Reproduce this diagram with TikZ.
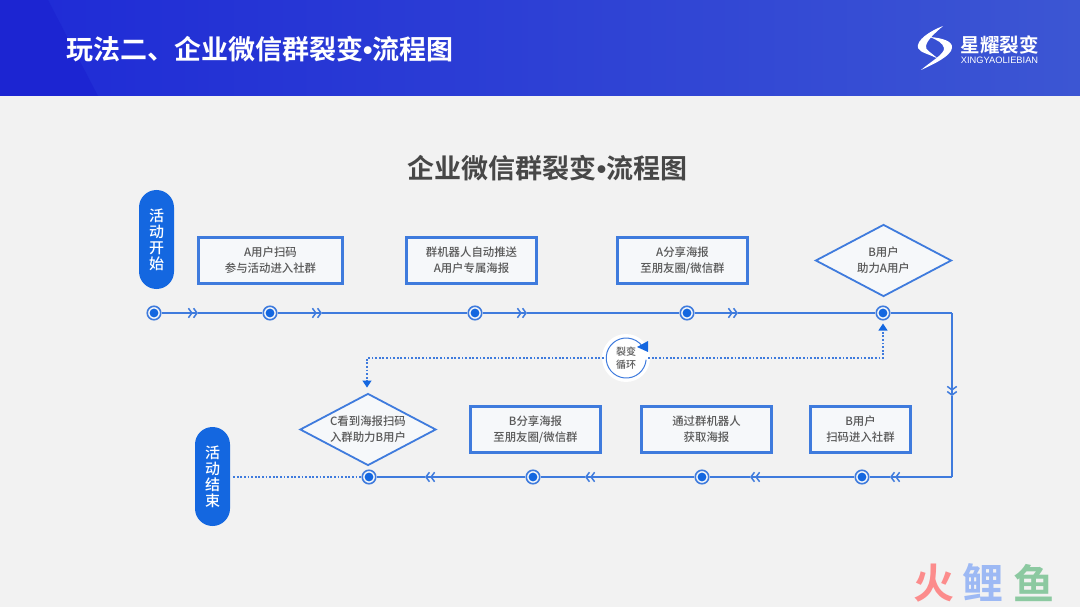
\documentclass[tikz,border=0pt]{standalone}
\usepackage{fontspec}
\usepackage{xcolor}
\usepackage{tikz}
\usetikzlibrary{calc,arrows.meta,positioning,shapes.geometric}
\setmainfont{Noto Sans CJK SC}[BoldFont={Noto Sans CJK SC Bold}]
\newfontfamily\cjkm{Noto Sans CJK SC Medium}
\newfontfamily\latinf{Liberation Sans}
\definecolor{mainc}{HTML}{3F7BDD}
\definecolor{deepc}{HTML}{1467E0}
\definecolor{softbg}{HTML}{F6F8FA}
\definecolor{pagebg}{HTML}{F2F2F2}
\definecolor{textc}{HTML}{585858}
\definecolor{headl}{HTML}{1E2AD6}
\definecolor{headr}{HTML}{3C56D3}
\definecolor{headd}{HTML}{1C25D2}
\definecolor{wmr}{HTML}{FC8C8C}
\definecolor{wmb}{HTML}{9DB9F4}
\definecolor{wmg}{HTML}{8CC9A1}
\newcommand{\dotb}{{\latinf\bfseries\char"2022}}
\tikzset{
  ln/.style={mainc,line width=1.6pt},
  ar/.style={ln,-{Straight Barb[length=3.5pt,width=9.5pt,sep=0pt,line width=1.5pt]Straight Barb[length=3.5pt,width=9.5pt,line width=1.5pt]}},
  dotl/.style={mainc,line width=1.3pt,dash pattern=on 1.8pt off 1.8pt},
  dotar/.style={dotl,-{Triangle[length=7pt,width=9pt,fill=deepc,color=deepc]}},
  box/.style={rectangle,draw=mainc,line width=2.1pt,fill=softbg,align=center,minimum height=46pt,inner sep=0pt,text=textc,font=\fontsize{11.4}{16}\selectfont\cjkm},
  dia/.style={diamond,draw=mainc,line width=1.8pt,fill=softbg,align=center,inner sep=0pt,minimum width=136pt,minimum height=72pt,aspect=1.875,text=textc,font=\fontsize{11.4}{16}\selectfont\cjkm},
  pill/.style={draw=none,fill=deepc,rounded corners=17.5pt,minimum width=35pt,minimum height=99pt,align=center,inner sep=0pt,text=white,font=\fontsize{15}{16}\selectfont\cjkm},
  nd/.style={circle,draw=mainc,line width=1.6pt,fill=softbg,minimum size=13.5pt,inner sep=0pt,
    path picture={\fill[deepc] (path picture bounding box.center) circle (4.4pt);}},
  wm/.style={font=\fontsize{41}{44}\selectfont\bfseries,inner sep=0pt}
}
\begin{document}
\begin{tikzpicture}[x=1pt,y=-1pt]
\useasboundingbox (0,0) rectangle (1080,607);
\fill[pagebg] (0,0) rectangle (1080,607);
\shade[left color=headl,right color=headr] (0,0) rectangle (1080,96);
\fill[headd] (0,0)--(48,0)--(98,96)--(0,96)--cycle;
% titles
\node[text=white,font=\fontsize{27}{30}\selectfont\bfseries,anchor=west,inner sep=0pt] (head) at (66,49) {玩法二、企业微信群裂变\dotb 流程图};
\node[text=black!72,font=\fontsize{27}{30}\selectfont\bfseries,inner sep=0pt] (maint) at (547.5,168) {企业微信群裂变\dotb 流程图};
% logo
\fill[white] (943,26) .. controls (930,31) and (916,40) .. (918,48) .. controls (920,53) and (930,54) .. (938,59) .. controls (931,52) and (925,50) .. (926,46) .. controls (927,40) and (935,33) .. (943,26);
\fill[white] (930,37) .. controls (942,38) and (953,41) .. (952,48) .. controls (951,56) and (934,64) .. (921,70) .. controls (930,62) and (945,54) .. (944,48) .. controls (943,43) and (937,40) .. (930,37);
\node[text=white,font=\fontsize{19.5}{20}\selectfont\bfseries,inner sep=0pt] (logot) at (999.5,45) {星耀裂变};
\node[text=white,font=\fontsize{9.3}{10}\selectfont\latinf,inner sep=0pt] (logos) at (999.5,60) {XINGYAOLIEBIAN};
% watermark
\node[wm,text=wmr] (wm1) at (934,583) {火};
\node[wm,text=wmb] (wm2) at (983,583) {鲤};
\node[wm,text=wmg] (wm3) at (1034,583) {鱼};
% start and end
\node[pill] (startp) at (156.5,239.5) {活\\动\\开\\始};
\node[pill] (endp) at (212.5,476.5) {活\\动\\结\\束};
% upper steps
\node[box,minimum width=144pt] (a1) at (270.5,260.5) {A用户扫码\\参与活动进入社群};
\node[box,minimum width=130pt] (a2) at (471.5,260.5) {群机器人自动推送\\A用户专属海报};
\node[box,minimum width=130pt] (a3) at (682.5,260.5) {A分享海报\\至朋友圈/微信群};
\node[dia] (a4) at (883.5,260.5) {B用户\\助力A用户};
% lower steps
\node[box,minimum width=100pt] (b1) at (860.5,429.5) {B用户\\扫码进入社群};
\node[box,minimum width=130pt] (b2) at (706.5,429.5) {通过群机器人\\获取海报};
\node[box,minimum width=130pt] (b3) at (535.5,429.5) {B分享海报\\至朋友圈/微信群};
\node[dia] (b4) at (368,429.5) {C看到海报扫码\\入群助力B用户};
% time line
\foreach \nm/\px in {n1/154,n2/270,n3/475,n4/687,n5/883}
  \node[nd] (\nm) at (\px,313) {};
\foreach \nm/\px in {n6/862,n7/702,n8/533,n9/369}
  \node[nd] (\nm) at (\px,477) {};
\foreach \nm/\px in {c1/198,c2/322,c3/527,c4/738}
  \coordinate (\nm) at (\px,313);
\foreach \nm/\px in {c6/890,c7/750,c8/585,c9/425}
  \coordinate (\nm) at (\px,477);
\coordinate (k1) at (952,313);
\coordinate (c5) at (952,396);
\coordinate (k2) at (952,477);
\foreach \p/\q/\r in {n1/c1/n2,n2/c2/n3,n3/c3/n4,n4/c4/n5,k1/c5/k2,k2/c6/n6,n6/c7/n7,n7/c8/n8,n8/c9/n9}{
  \draw[ar] (\p)--(\q);
  \draw[ln] (\q)--(\r);
}
\draw[ln] (n5)--(k1);
% loop
\fill[white] (626,358) circle (24pt);
\node[circle,draw=none,minimum size=40pt,inner sep=0pt,align=center,text=textc,font=\fontsize{10}{13.5}\selectfont\cjkm] (loopn) at (626,358) {裂变\\循环};
\draw[mainc,line width=1pt] (loopn.-5) arc[start angle=-5,end angle=-325,radius=20pt];
\fill[deepc] (637,347)--(648,341)--(648,352)--cycle;
\coordinate (k3) at (883,358);
\coordinate (k4) at (367,358);
\draw[dotar] (loopn.east)++(2,0)--(k3)--([yshift=-3pt]n5.south);
\draw[dotar] (loopn.west)++(-2,0)--(k4)--([yshift=5pt]b4.north-|k4);
\draw[dotl] ([xshift=3pt]endp.east|-n9)--(n9);
\end{tikzpicture}
\end{document}
